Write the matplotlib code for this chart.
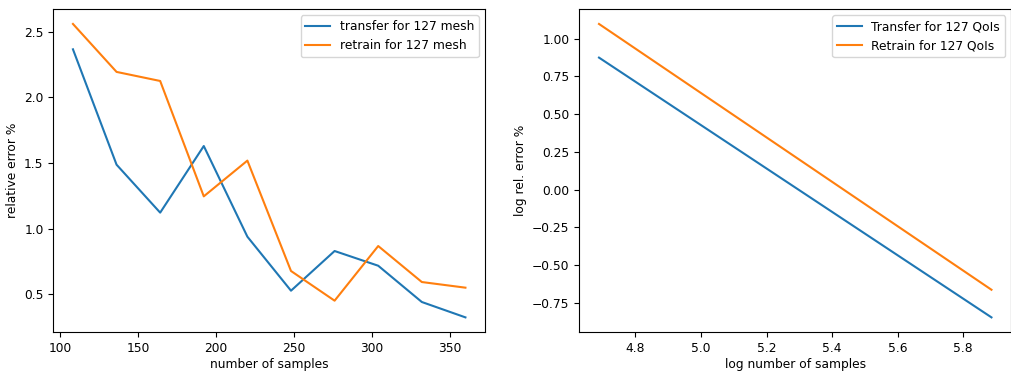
"""Transfer vs retrain error curves for the 127-mesh / 127-QoI case."""
import matplotlib

matplotlib.use("Agg")
import matplotlib.pyplot as plt
import numpy as np

# left panel: relative error vs number of samples
samples = [108, 136, 164, 192, 220, 248, 276, 304, 332, 360]
transfer_err = [2.365, 1.487, 1.122, 1.629, 0.939, 0.528, 0.830, 0.718, 0.442, 0.325]
retrain_err = [2.558, 2.193, 2.124, 1.246, 1.518, 0.678, 0.452, 0.868, 0.594, 0.551]

# right panel: fitted log-log lines (end points)
log_samples = [4.689, 5.886]
transfer_fit = [0.874, -0.847]
retrain_fit = [1.097, -0.664]

plt.rcParams["font.size"] = 8.8

fig = plt.figure(figsize=(10.12, 3.71), dpi=100)
ax1 = fig.add_axes([0.0527, 0.105, 0.4266, 0.870])
ax2 = fig.add_axes([0.5725, 0.105, 0.4266, 0.870])

ax1.plot(samples, transfer_err, label="transfer for 127 mesh")
ax1.plot(samples, retrain_err, label="retrain for 127 mesh")
ax1.set_xlabel("number of samples", labelpad=2)
ax1.set_ylabel("relative error %", labelpad=4)
ax1.legend(loc="upper right")

ax2.plot(log_samples, transfer_fit, label="Transfer for 127 QoIs")
ax2.plot(log_samples, retrain_fit, label="Retrain for 127 QoIs")
ax2.set_xlabel("log number of samples", labelpad=2)
ax2.set_ylabel("log rel. error %", labelpad=4)
ax2.set_xticks(np.arange(4.8, 5.81, 0.2))
ax2.legend(loc="upper right")

fig.savefig("out.png", dpi=100, facecolor="white")
